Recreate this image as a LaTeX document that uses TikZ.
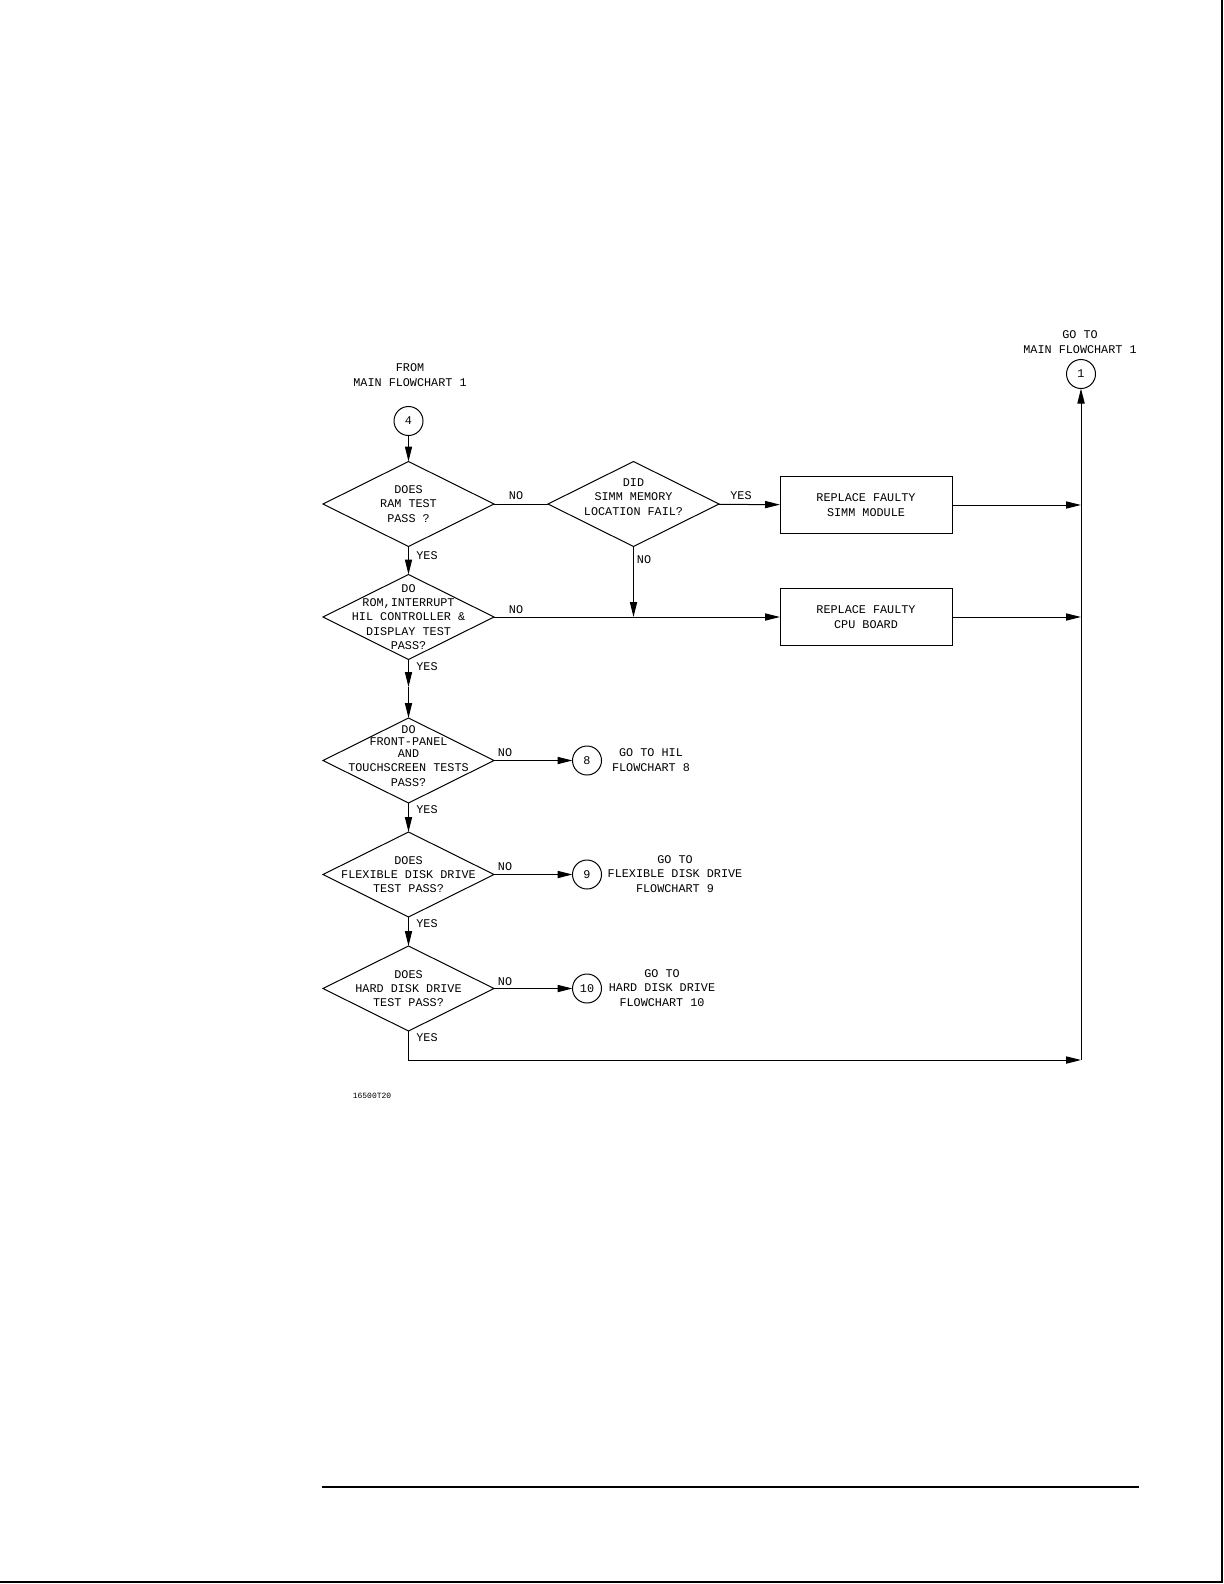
\documentclass[tikz,border=0pt]{standalone}
\usepackage{fontspec}
\setmonofont{Liberation Mono}
\usetikzlibrary{arrows.meta,shapes.geometric}

\begin{document}
\begin{tikzpicture}[x=0.5pt,y=-0.5pt,line width=0.5pt,
    every node/.style={font=\ttfamily\fontsize{5.9}{7.2}\selectfont,inner sep=0pt},
    dia/.style={draw,shape=diamond,minimum width=85.5pt,minimum height=42.5pt,outer sep=0pt},
    box/.style={draw,minimum width=86pt,minimum height=28.5pt,outer sep=0pt},
    conn/.style={draw,circle,minimum size=14.5pt,outer sep=0pt},
    txt/.style={align=center},
    arr/.style={-{Triangle[length=7.5pt,width=3.6pt]}}]
  \useasboundingbox (0,0) rectangle (1224,1584);
  % page frame and rule
  \draw[line width=1pt] (1222,0) -- (1222,1582) -- (0,1582);
  \draw[line width=1pt] (322,1487) -- (1139,1487);

  % connectors to other charts
  \node[txt] (fromtxt) at (410,375) {FROM\\MAIN FLOWCHART 1};
  \node[conn] (c4) at (408.5,421) {4};
  \node[txt] (gototxt) at (1080,342) {GO TO\\MAIN FLOWCHART 1};
  \node[conn] (c1) at (1081,374) {1};
  \coordinate (bus) at (1081,1060);

  % decisions
  \node[dia] (d1) at (408.5,504) {};
  \node[txt] (d1t) at (d1) {DOES\\RAM TEST\\PASS ?};
  \node[dia] (d2) at (633.5,504) {};
  \node[txt] (d2t) at (633.5,497) {DID\\SIMM MEMORY\\LOCATION FAIL?};
  \node[dia] (d3) at (408.5,617) {};
  \node[txt] (d3t) at (d3) {DO\\ROM,INTERRUPT\\HIL CONTROLLER \&\\DISPLAY TEST\\PASS?};
  \node[dia] (d4) at (408.5,760.5) {};
  \node[txt] (d4t) at (408.5,756) {DO\\[-1.3pt]FRONT-PANEL\\[-1.3pt]AND\\TOUCHSCREEN TESTS\\PASS?};
  \node[dia] (d5) at (408.5,874.5) {};
  \node[txt] (d5t) at (d5) {DOES\\FLEXIBLE DISK DRIVE\\TEST PASS?};
  \node[dia] (d6) at (408.5,988.5) {};
  \node[txt] (d6t) at (d6) {DOES\\HARD DISK DRIVE\\TEST PASS?};
  \coordinate (m34) at (408.5,687);

  % repairs
  \node[box,txt] (box1) at (866,505) {REPLACE FAULTY\\SIMM MODULE};
  \node[box,txt] (box2) at (866,617) {REPLACE FAULTY\\CPU BOARD};

  % sub charts
  \node[conn] (c8) at (587,760.5) {8};
  \node[txt] (c8t) at (651,760) {GO TO HIL\\FLOWCHART 8};
  \node[conn] (c9) at (587,874.5) {9};
  \node[txt] (c9t) at (675,874) {GO TO\\FLEXIBLE DISK DRIVE\\FLOWCHART 9};
  \node[conn] (c10) at (587,988.5) {10};
  \node[txt] (c10t) at (662,988) {GO TO\\HARD DISK DRIVE\\FLOWCHART 10};

  % flow
  \draw[arr] (c4) -- (d1);
  \draw (d1) -- (d2);
  \draw[arr] (d2) -- (box1);
  \draw[arr] (box1) -- (box1 -| bus);
  \draw[arr] (d2) -- (d2 |- d3);
  \draw[arr] (d1) -- (d3);
  \draw[arr] (d3) -- (box2);
  \draw[arr] (box2) -- (box2 -| bus);
  \draw[arr] (d3) -- (m34);
  \draw[arr] (m34) -- (d4);
  \draw[arr] (d4) -- (d5);
  \draw[arr] (d5) -- (d6);
  \draw[arr] (d4) -- (c8);
  \draw[arr] (d5) -- (c9);
  \draw[arr] (d6) -- (c10);
  \draw[arr] (d6) |- (bus);
  \draw[arr] (bus) -- (c1);

  % branch labels
  \foreach \x/\y/\t in {516/496/NO,741/496/YES,427/556/YES,644/560/NO,516/610/NO,
      427/667/YES,505/753/NO,427/810/YES,505/867/NO,427/924/YES,505/982/NO,427/1038/YES}
    \node (lbl) at (\x,\y) {\t};

  \node[font=\ttfamily\fontsize{4}{5}\selectfont] (figno) at (372,1096) {16500T20};
\end{tikzpicture}
\end{document}
